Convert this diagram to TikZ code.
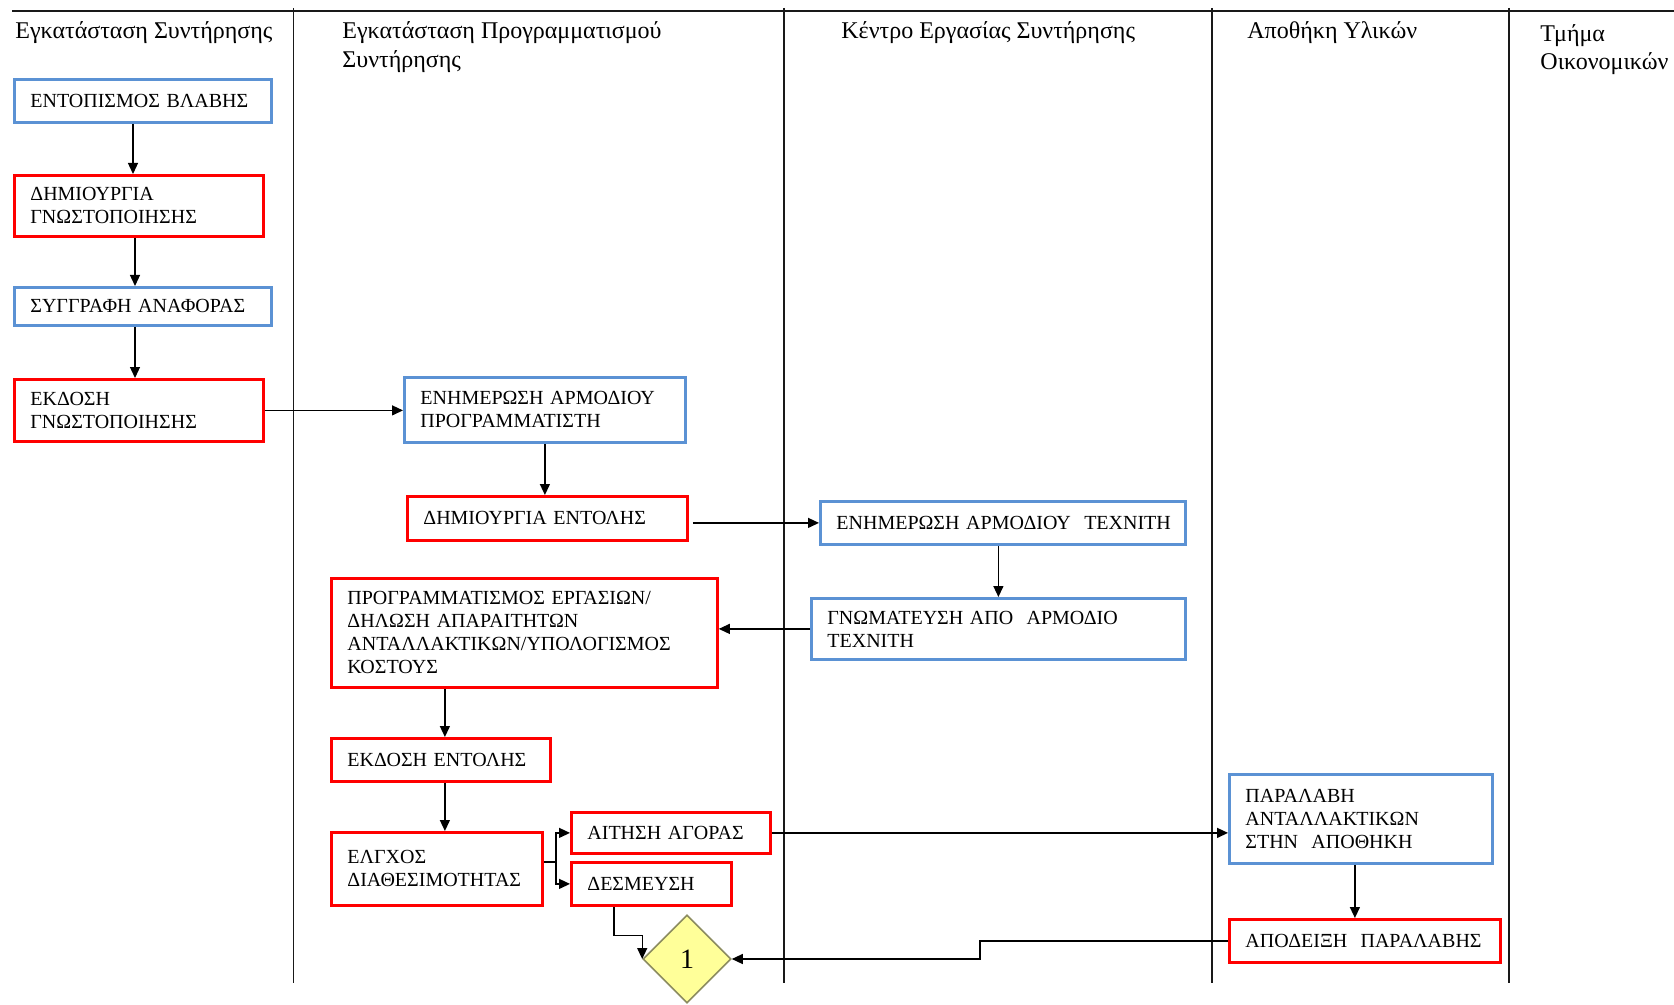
\documentclass[tikz,border=0pt]{standalone}
\usepackage{fontspec}
\setmainfont{Liberation Serif}
\usetikzlibrary{arrows.meta,shapes.geometric,calc}
\definecolor{bblue}{RGB}{91,146,212}
\definecolor{rred}{RGB}{255,0,0}
\definecolor{dfill}{RGB}{255,255,153}
\definecolor{ddraw}{RGB}{140,140,96}
\begin{document}
\begin{tikzpicture}[x=0.5pt,y=-0.5pt,
  lane/.style={line width=0.95pt,black!90},
  box/.style={rectangle,draw,line width=1.4pt,anchor=north west,inner xsep=8pt,inner ysep=1pt,align=left,font=\fontsize{10}{11.5}\selectfont},
  bbox/.style={box,draw=bblue},
  rbox/.style={box,draw=rred},
  hdr/.style={anchor=base west,inner sep=0pt,font=\fontsize{12}{14.4}\selectfont},
  arr/.style={line width=0.65pt,-{Triangle[length=5.5pt,width=5pt]}},
  ln/.style={line width=0.65pt}]
\useasboundingbox (0,0) rectangle (1674,1005);
% swimlane frame
\draw[lane] (12,11) -- (1674,11);
\draw[lane] (293.5,8) -- (293.5,983);
\draw[lane] (783.6,8) -- (783.6,983);
\draw[lane] (1211.7,8) -- (1211.7,983);
\draw[lane] (1508.6,8) -- (1508.6,983);
% headers
\node[hdr] (h1) at (15,39) {Εγκατάσταση Συντήρησης};
\node[hdr] (h2a) at (342,39) {Εγκατάσταση Προγραμματισμού};
\node[hdr] (h2b) at (342,68) {Συντήρησης};
\node[hdr] (h3) at (841,39) {Κέντρο Εργασίας Συντήρησης};
\node[hdr] (h4) at (1247,39) {Αποθήκη Υλικών};
\node[hdr] (h5a) at (1540,42) {Τμήμα};
\node[hdr] (h5b) at (1540,70) {Οικονομικών};
% boxes
\node[bbox,text width=112.5pt,minimum height=21.5pt] (ent) at (13,78) {ΕΝΤΟΠΙΣΜΟΣ~ΒΛΑΒΗΣ};
\node[rbox,text width=108.5pt,minimum height=30.5pt] (dim) at (13,174) {ΔΗΜΙΟΥΡΓΙΑ\\ΓΝΩΣΤΟΠΟΙΗΣΗΣ};
\node[bbox,text width=112.5pt,minimum height=19pt] (syg) at (13,286) {ΣΥΓΓΡΑΦΗ~ΑΝΑΦΟΡΑΣ};
\node[rbox,text width=108.5pt,minimum height=31pt] (ekd) at (13,378) {ΕΚΔΟΣΗ\\ΓΝΩΣΤΟΠΟΙΗΣΗΣ};
\node[bbox,text width=124.5pt,minimum height=32.5pt] (enp) at (403,376) {ΕΝΗΜΕΡΩΣΗ~ΑΡΜΟΔΙΟΥ\\ΠΡΟΓΡΑΜΜΑΤΙΣΤΗ};
\node[rbox,text width=124pt,minimum height=22pt] (den) at (406,495) {ΔΗΜΙΟΥΡΓΙΑ~ΕΝΤΟΛΗΣ};
\node[bbox,text width=166.5pt,minimum height=21.5pt] (ent7) at (819,500) {ΕΝΗΜΕΡΩΣΗ~ΑΡΜΟΔΙΟΥ~~ΤΕΧΝΙΤΗ};
\node[bbox,text width=171pt,minimum height=30.5pt] (gnw) at (810,597) {ΓΝΩΜΑΤΕΥΣΗ~ΑΠΟ~~ΑΡΜΟΔΙΟ\\ΤΕΧΝΙΤΗ};
\node[rbox,text width=177pt,minimum height=54.5pt] (prog) at (330,577) {ΠΡΟΓΡΑΜΜΑΤΙΣΜΟΣ~ΕΡΓΑΣΙΩΝ/\\ΔΗΛΩΣΗ~ΑΠΑΡΑΙΤΗΤΩΝ\\ΑΝΤΑΛΛΑΚΤΙΚΩΝ/ΥΠΟΛΟΓΙΣΜΟΣ\\ΚΟΣΤΟΥΣ};
\node[rbox,text width=93.5pt,minimum height=21.5pt] (eken) at (330,737) {ΕΚΔΟΣΗ~ΕΝΤΟΛΗΣ};
\node[rbox,text width=89.5pt,minimum height=36.5pt] (elg) at (330,831) {ΕΛΓΧΟΣ\\ΔΙΑΘΕΣΙΜΟΤΗΤΑΣ};
\node[rbox,text width=83.5pt,minimum height=20.5pt] (ait) at (570,811) {ΑΙΤΗΣΗ~ΑΓΟΡΑΣ};
\node[rbox,text width=64pt,minimum height=21.5pt] (des) at (570,861) {ΔΕΣΜΕΥΣΗ};
\node[bbox,text width=115.5pt,minimum height=44.5pt] (par) at (1228,773) {ΠΑΡΑΛΑΒΗ\\ΑΝΤΑΛΛΑΚΤΙΚΩΝ\\ΣΤΗΝ~~ΑΠΟΘΗΚΗ};
\node[rbox,text width=119.5pt,minimum height=21.5pt] (apo) at (1228,918) {ΑΠΟΔΕΙΞΗ~~ΠΑΡΑΛΑΒΗΣ};
\node[diamond,draw=ddraw,fill=dfill,line width=0.8pt,minimum width=44pt,minimum height=44pt,inner sep=0pt,aspect=1,font=\fontsize{14}{16}\selectfont] (dia) at (687,959) {1};
% helper coordinates
\coordinate (fork) at (556,862);
\coordinate (bend) at (980,0);
% connectors
\draw[arr] ([xshift=60pt]ent.south west) -- ([xshift=60pt]ent.south west |- dim.north);
\draw[arr] ([xshift=61pt]dim.south west) -- ([xshift=61pt]dim.south west |- syg.north);
\draw[arr] ([xshift=61pt]syg.south west) -- ([xshift=61pt]syg.south west |- ekd.north);
\draw[arr] (ekd.east) -- (ekd.east -| enp.west);
\draw[arr] (enp.south) -- (enp.south |- den.north);
\draw[arr] ([xshift=2pt]den.east |- ent7.west) -- (ent7.west);
\draw[arr] (gnw.north |- ent7.south) -- (gnw.north);
\draw[arr] (gnw.west) -- (gnw.west -| prog.east);
\draw[arr] ([xshift=2pt]eken.north |- prog.south) -- ([xshift=2pt]eken.north);
\draw[arr] ([xshift=2pt]eken.south) -- ([xshift=2pt]eken.south |- elg.north);
\draw[ln] (elg.east |- fork) -- (fork);
\draw[arr] (fork) |- (ait.west);
\draw[arr] (fork) |- (des.west);
\draw[arr] (ait.east) -- (ait.east -| par.west);
\draw[arr] ([xshift=-3pt]par.south) -- ([xshift=-3pt]par.south |- apo.north);
\draw[arr] ([xshift=22pt]des.south west) -- ++(0,29) -| (dia.west);
\draw[arr] (apo.west) -| (bend |- dia.east) -- (dia.east);
\end{tikzpicture}
\end{document}
